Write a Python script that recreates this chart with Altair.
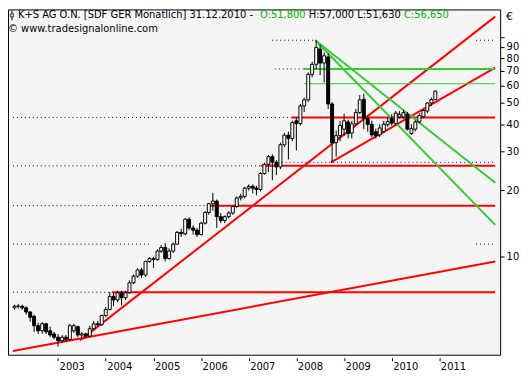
import altair as alt
import pandas as pd

# ---- monthly OHLC, Feb 2002 .. Dec 2010 ----
first_month = "2002-02-01"
opens = [5.85, 5.95, 5.95, 5.85, 5.60, 5.35, 4.85, 4.60, 4.95, 4.60, 4.45,
         4.30, 4.15, 4.30, 4.20, 4.60, 4.80, 4.40, 4.45, 4.35, 4.70, 4.95, 4.90,
         5.40, 5.75, 6.60, 6.35, 6.85, 6.50, 6.85, 7.60, 8.15, 8.70, 8.25, 9.50,
         9.80, 9.70, 10.60, 11.00, 9.80, 10.60, 11.40, 12.90, 12.70, 14.80, 13.50, 13.20,
         12.60, 14.20, 15.90, 17.40, 17.90, 15.20, 14.60, 15.20, 15.80, 16.90, 18.50, 18.80,
         20.50, 20.90, 20.50, 20.20, 23.90, 26.30, 28.50, 26.90, 25.60, 32.30, 35.70, 34.50,
         41.50, 40.30, 48.50, 51.70, 67.50, 75.00, 88.00, 76.00, 81.00, 49.50, 33.00, 35.50,
         38.00, 41.00, 36.50, 40.20, 45.30, 52.00, 42.50, 40.00, 37.00, 35.80, 37.00, 39.80,
         42.50, 40.30, 43.20, 43.20, 44.50, 36.30, 38.00, 41.00, 43.30, 46.00, 50.00, 51.80]
highs = [6.05, 6.10, 6.05, 5.95, 5.65, 5.45, 5.00, 5.05, 5.00, 4.80, 4.55,
         4.45, 4.40, 4.40, 4.95, 4.95, 4.85, 4.55, 4.50, 4.85, 5.10, 5.10, 5.45,
         5.90, 6.90, 6.85, 7.00, 7.00, 7.00, 7.80, 8.30, 8.85, 8.90, 9.60, 9.95,
         10.00, 10.80, 11.30, 11.50, 10.90, 11.60, 13.10, 13.40, 15.00, 15.10, 13.90, 13.50,
         14.40, 16.10, 17.60, 19.50, 18.20, 15.80, 15.40, 16.10, 17.10, 18.80, 19.30, 20.80,
         21.30, 21.30, 21.00, 24.20, 26.80, 29.00, 29.20, 27.50, 33.00, 36.50, 37.00, 41.50,
         43.00, 49.50, 53.00, 69.00, 77.00, 96.50, 92.00, 85.00, 84.00, 50.50, 37.50, 41.50,
         44.70, 42.00, 41.50, 47.00, 54.40, 55.00, 43.50, 41.50, 38.20, 40.00, 41.50, 43.00,
         44.50, 46.00, 46.00, 46.50, 45.50, 40.00, 41.70, 45.00, 47.00, 50.50, 53.00, 57.00]
lows = [5.75, 5.80, 5.75, 5.45, 5.05, 4.55, 4.45, 4.45, 4.45, 4.30, 4.20,
        3.90, 4.05, 4.10, 4.15, 4.50, 4.30, 4.25, 4.25, 4.30, 4.65, 4.80, 4.85,
        5.30, 5.70, 5.95, 6.20, 6.00, 6.35, 6.80, 7.50, 8.00, 8.00, 8.10, 9.40,
        8.90, 9.60, 10.40, 9.50, 9.70, 10.40, 11.30, 12.30, 12.50, 13.20, 12.60, 12.30,
        12.50, 14.00, 15.50, 16.20, 13.50, 14.20, 14.20, 14.90, 15.50, 16.70, 18.00, 18.40,
        20.00, 19.40, 19.00, 19.80, 23.60, 24.30, 22.30, 23.50, 25.00, 31.50, 27.70, 33.50,
        30.40, 39.50, 45.50, 50.50, 65.50, 71.00, 67.00, 62.00, 47.00, 26.85, 28.50, 33.50,
        35.50, 34.50, 34.50, 39.50, 44.50, 38.00, 37.00, 35.00, 34.50, 35.00, 36.50, 39.00,
        39.50, 39.80, 42.50, 42.50, 37.50, 35.80, 37.20, 40.50, 42.60, 45.00, 48.50, 51.63]
closes = [5.95, 5.95, 5.85, 5.60, 5.30, 4.85, 4.60, 4.95, 4.55, 4.40, 4.30,
          4.15, 4.30, 4.20, 4.85, 4.85, 4.40, 4.45, 4.35, 4.70, 4.95, 4.90, 5.40,
          5.75, 6.60, 6.35, 6.85, 6.50, 6.85, 7.60, 8.15, 8.70, 8.25, 9.50, 9.80,
          9.70, 10.60, 11.00, 9.80, 10.60, 11.40, 12.90, 12.70, 14.80, 13.50, 13.20, 12.60,
          14.20, 15.90, 17.40, 17.90, 15.20, 14.60, 15.20, 15.80, 16.90, 18.50, 18.80, 20.50,
          20.90, 20.50, 20.20, 23.90, 26.30, 28.50, 26.90, 25.60, 32.30, 35.70, 34.50, 40.70,
          40.30, 48.50, 51.70, 67.50, 75.00, 89.50, 76.00, 82.00, 49.50, 33.00, 35.50, 39.50,
          41.50, 36.30, 40.20, 45.30, 51.70, 42.50, 40.00, 35.80, 35.50, 38.50, 40.00, 41.20,
          40.50, 45.00, 44.40, 45.20, 38.00, 38.20, 41.00, 43.80, 46.20, 50.00, 51.80, 56.65]

# ---- drawn trend lines: (start date, start value, end date, end value) ----
red_start_dates = ["2002-01-20", "2003-06-18", "2004-02-17", "2006-02-22", "2007-04-02", "2007-11-25", "2008-09-22"]
red_start_vals = [3.72, 4.16, 6.89, 17.06, 25.9, 43.0, 26.85]
red_end_dates = ["2012-03-04"] * 7
red_end_vals = [9.51, 123.6, 6.89, 17.06, 25.9, 43.0, 72.4]

green_start_dates = ["2008-05-25", "2008-05-25", "2008-02-28"]
green_start_vals = [96.5, 96.5, 71.4]
green_end_dates = ["2012-03-04"] * 3
green_end_vals = [13.95, 21.7, 71.4]

thin_green_start_dates = ["2008-02-28"]
thin_green_vals = [61.2]

dot_start_dates = ["2002-01-20", "2002-01-20", "2002-01-20", "2002-01-20", "2002-01-20", "2007-07-01", "2011-10-10", "2011-10-10"]
dot_end_dates = ["2004-02-17", "2006-02-22", "2007-04-02", "2007-11-25", "2004-12-01", "2008-05-25", "2012-03-04", "2012-03-04"]
dot_vals = [6.89, 17.06, 25.9, 43.0, 11.4, 96.5, 96.5, 11.4]

blue_start_dates = ["2007-08-10", "2007-07-20"]
blue_end_dates = ["2012-03-04", "2008-02-28"]
blue_vals = [26.85, 71.4]

year_ticks = [2003, 2004, 2005, 2006, 2007, 2008, 2009, 2010, 2011]
y_ticks = [10, 20, 30, 40, 50, 60, 70, 80, 90, 100]

# ---- tables ----
dates = pd.date_range(first_month, periods=len(opens), freq="MS")
candles = pd.DataFrame({"date": dates, "open": opens, "high": highs, "low": lows, "close": closes})
candles["dir"] = ["up" if c >= o else "down" for o, c in zip(opens, closes)]


def segs(sd, sv, ed, ev):
    rows = []
    for i, (a, b, c, d) in enumerate(zip(sd, sv, ed, ev)):
        rows.append({"id": i, "date": a, "v": b})
        rows.append({"id": i, "date": c, "v": d})
    return pd.DataFrame(rows)


red_df = segs(red_start_dates, red_start_vals, red_end_dates, red_end_vals)
green_df = segs(green_start_dates, green_start_vals, green_end_dates, green_end_vals)
thin_df = segs(thin_green_start_dates, thin_green_vals, ["2012-03-04"], thin_green_vals)
dot_df = segs(dot_start_dates, dot_vals, dot_end_dates, dot_vals)
blue_df = segs(blue_start_dates, blue_vals, blue_end_dates, blue_vals)

FONT = "DejaVu Sans"
xscale = alt.Scale(domain=[alt.DateTime(year=2002, month=1, date=20),
                           alt.DateTime(year=2012, month=3, date=4)], nice=False)
yscale = alt.Scale(type="log", domain=[3.58, 133.3], nice=False)

xaxis = alt.Axis(format="%Y", values=[alt.DateTime(year=y, month=1, date=1) for y in year_ticks],
                 labelAlign="left", labelFont=FONT, labelFontSize=10, labelColor="black",
                 tickColor="black", tickSize=3, offset=3, labelPadding=1, labelOffset=1,
                 domain=False, grid=False, title=None, labelFlush=False, labelOverlap=False)
yaxis = alt.Axis(orient="right", values=y_ticks, labelExpr="datum.value == 100 ? '' : datum.value",
                 labelFont=FONT, labelFontSize=10, labelColor="black", tickColor="black",
                 tickSize=4, labelPadding=2, domain=False, grid=False, title=None)

X = alt.X("date:T", scale=xscale, axis=xaxis)

wicks = alt.Chart(candles).mark_rule(color="black", strokeWidth=1).encode(
    x=X, y=alt.Y("low:Q", scale=yscale, axis=yaxis), y2="high:Q")
bodies = alt.Chart(candles).mark_bar(size=3, stroke="black", strokeWidth=1).encode(
    x="date:T", y="open:Q", y2="close:Q",
    color=alt.Color("dir:N", scale=alt.Scale(domain=["up", "down"], range=["white", "black"]), legend=None))


def line_layer(df, color, width, dash=None):
    kw = dict(color=color, strokeWidth=width, clip=True)
    if dash:
        kw["strokeDash"] = dash
    return alt.Chart(df).mark_line(**kw).encode(x="date:T", y="v:Q", detail="id:N")


dots = line_layer(dot_df, "black", 1, [1, 3])
blues = line_layer(blue_df, "#0000CC", 1, [1, 3])
reds = line_layer(red_df, "#FF0000", 2)
greens = line_layer(green_df, "#33CC33", 2)
thin = line_layer(thin_df, "#33CC33", 1)

one = pd.DataFrame({"k": [0]})


def label(txt, x, y, color="black", size=10):
    return alt.Chart(one).mark_text(text=txt, align="left", baseline="middle", font=FONT,
                                    fontSize=size, color=color).encode(
        x=alt.value(x), y=alt.value(y))


t0 = 10
title_layers = [
    label("K+S AG O.N. [SDF GER  Monatlich] 31.12.2010 -", t0, 6),
    label("O:51,800", t0 + 244, 6, "#00B400"),
    label("H:57,000 L:51,630", t0 + 293, 6),
    label("C:56,650", t0 + 389, 6, "#00B400"),
    label("\u00a9 www.tradesignalonline.com", 0, 20),
    label("\u20ac", 502, 8, "black", 11),
]
icon_box = alt.Chart(one).mark_point(shape="square", filled=True, fill="white", stroke="black",
                                     size=10, strokeWidth=1).encode(x=alt.value(4), y=alt.value(6))
icon_wick = alt.Chart(one).mark_rule(color="black").encode(x=alt.value(4), y=alt.value(1), y2=alt.value(11))

chart = alt.layer(dots, blues, reds, thin, greens, wicks, bodies, icon_wick, icon_box,
                  *title_layers).properties(
    width=496, height=348,
    autosize=alt.AutoSizeParams(type="none"),
    padding={"left": 0, "top": 0, "right": 20, "bottom": 16},
    background="white",
).configure_view(fill="#F5F5F5", stroke="black", strokeWidth=1)

chart.save("out.html", embed_options={"renderer": "svg", "actions": False})
